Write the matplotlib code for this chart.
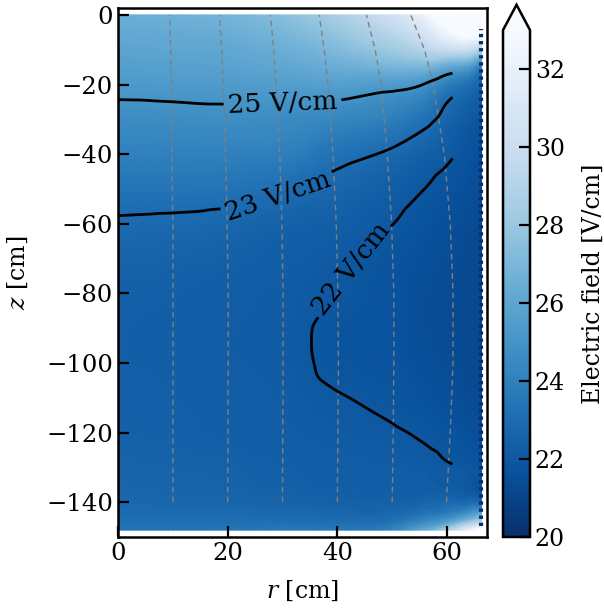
import numpy as np
import matplotlib
matplotlib.use('Agg')
import matplotlib.pyplot as plt
import matplotlib.tri as mtri

plt.rcParams['font.family'] = 'DejaVu Serif'
plt.rcParams['mathtext.fontset'] = 'dejavuserif'

# grid positions (cm)
r_vals = [0, 10, 20, 30, 40, 50, 55, 61, 64, 66.3]
z_vals = [0, -5, -10, -15, -20, -30, -40, -50, -60, -70, -80, -90, -100,
          -110, -120, -130, -140, -145, -148]

# electric field [V/cm], one list per r column
E_r0 = [26.5, 26.2, 25.9, 25.6, 25.3, 24.6, 24.0, 23.4, 22.9, 22.6, 22.45, 22.4, 22.4,
        22.45, 22.5, 22.6, 22.8, 23.1, 23.4]
E_r10 = [26.6, 26.3, 26.0, 25.7, 25.35, 24.65, 24.0, 23.4, 22.85, 22.55, 22.4, 22.35, 22.35,
         22.4, 22.45, 22.55, 22.75, 23.1, 23.4]
E_r20 = [26.9, 26.5, 26.1, 25.8, 25.4, 24.7, 24.0, 23.35, 22.75, 22.45, 22.3, 22.25, 22.25,
         22.3, 22.35, 22.5, 22.7, 23.1, 23.5]
E_r30 = [27.5, 27.0, 26.5, 26.05, 25.55, 24.55, 23.9, 23.1, 22.5, 22.3, 22.2, 22.17, 22.18,
         22.22, 22.28, 22.4, 22.6, 23.1, 23.6]
E_r40 = [28.6, 27.9, 27.2, 26.45, 25.65, 24.3, 23.3, 22.7, 22.35, 22.1, 22.0, 21.85, 21.87,
         22.03, 22.15, 22.3, 22.5, 23.0, 23.6]
E_r50 = [30.5, 29.3, 28.2, 26.9, 25.4, 23.9, 22.85, 22.3, 22.01, 21.8, 21.7, 21.7, 21.75,
         21.88, 22.05, 22.25, 22.5, 23.2, 24.2]
E_r55 = [32.0, 30.5, 29.0, 27.0, 25.1, 23.4, 22.5, 22.05, 21.78, 21.6, 21.52, 21.52, 21.58,
         21.72, 21.95, 22.2, 22.6, 24.0, 26.0]
E_r61 = [35.0, 33.0, 30.0, 26.0, 23.7, 22.55, 22.05, 21.7, 21.5, 21.4, 21.35, 21.35, 21.4,
         21.5, 21.75, 22.05, 22.9, 25.5, 29.5]
E_r64 = [35.0, 34.0, 30.0, 25.5, 23.2, 22.15, 21.75, 21.55, 21.4, 21.3, 21.25, 21.25, 21.3,
         21.4, 21.6, 21.95, 23.0, 27.0, 32.5]
E_r66 = [35.0, 34.0, 29.0, 24.0, 22.7, 21.9, 21.55, 21.4, 21.3, 21.22, 21.18, 21.18, 21.22,
         21.3, 21.5, 21.85, 23.0, 28.5, 35.0]

contour_levels = [22, 23, 25]
contour_rmax = 61
contour_zmin = -140

# field lines (r positions at the z values below)
fl_z = [-140, -120, -100, -80, -60, -40, -20, -10, 0]
fl_r1 = [10.0, 10.0, 10.05, 10.05, 10.0, 9.8, 9.7, 9.6, 9.4]
fl_r2 = [20.0, 20.05, 20.1, 20.1, 19.9, 19.6, 19.2, 18.9, 18.5]
fl_r3 = [30.0, 30.05, 30.1, 30.1, 29.9, 29.5, 28.8, 28.4, 27.8]
fl_r4 = [40.0, 40.1, 40.2, 40.1, 39.8, 39.2, 38.3, 37.6, 36.7]
fl_r5 = [50.0, 50.2, 50.3, 50.3, 49.9, 49.1, 48.0, 46.9, 45.3]
fl_r6 = [59.9, 60.6, 61.1, 61.1, 60.6, 59.5, 57.5, 55.9, 53.4]

E = np.array([E_r0, E_r10, E_r20, E_r30, E_r40, E_r50, E_r55, E_r61, E_r64, E_r66]).T
R, Z = np.meshgrid(r_vals, z_vals)

# let matplotlib.tri refine the grid for smooth shading / contours
tri = mtri.Triangulation(R.ravel(), Z.ravel())
interp = mtri.CubicTriInterpolator(tri, E.ravel(), kind='geom')
tri_f, E_f = mtri.UniformTriRefiner(tri).refine_field(E.ravel(), triinterpolator=interp, subdiv=4)

fig = plt.figure(figsize=(6.04, 6.10), dpi=100)
ax = fig.add_axes([0.1954, 0.1197, 0.6109, 0.8672])
cax = fig.add_axes([0.8328, 0.1197, 0.0447, 0.8725])

pc = ax.tripcolor(tri_f, E_f, shading='gouraud', cmap='Blues_r', vmin=20, vmax=33)

# mesh edge artefact on the outer wall
ax.axvline(r_vals[-1] - 0.15, ymin=0.02, ymax=0.96, color='#08306b', lw=3,
           ls=(0, (0.8, 0.9)))

# field lines
for fr in [fl_r1, fl_r2, fl_r3, fl_r4, fl_r5, fl_r6]:
    ax.plot(fr, fl_z, color='gray', lw=1.0, dashes=(4, 3))

# contours only inside r <= 61, z >= -140
tri_c = mtri.Triangulation(tri_f.x, tri_f.y, tri_f.triangles)
cx = tri_f.x[tri_f.triangles].mean(axis=1)
cy = tri_f.y[tri_f.triangles].mean(axis=1)
tri_c.set_mask((cx > contour_rmax) | (cy < contour_zmin))
cs = ax.tricontour(tri_c, E_f, levels=contour_levels, colors='k', linewidths=2)
ax.clabel(cs, fmt=lambda v: '%d V/cm' % v, fontsize=19, inline=True,
          manual=[(42.5, -73), (29, -51), (30, -25.5)])

ax.set_xlim(0, 67.3)
ax.set_ylim(-150, 2)
ax.set_xticks([0, 20, 40, 60])
ax.set_yticks([0, -20, -40, -60, -80, -100, -120, -140])
ax.set_xlabel('$r$ [cm]', fontsize=17, labelpad=10)
ax.set_ylabel('$z$ [cm]', fontsize=17, labelpad=12)
ax.tick_params(direction='in', length=8, width=1.6, labelsize=17.5)
for s in ax.spines.values():
    s.set_linewidth(1.8)

cb = fig.colorbar(pc, cax=cax, extend='max')
cb.set_ticks([20, 22, 24, 26, 28, 30, 32])
cb.set_label('Electric field [V/cm]', fontsize=17, labelpad=12)
cb.ax.tick_params(direction='in', length=8, width=1.6, labelsize=17)
cb.outline.set_linewidth(1.8)

fig.savefig('out.png', dpi=100)
